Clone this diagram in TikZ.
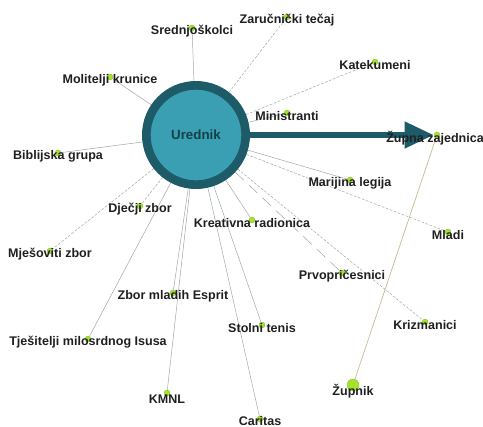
\documentclass[tikz,border=0pt]{standalone}
\usepackage{fontspec}
\setmainfont{Liberation Sans}
\usepackage{tikz}
\usetikzlibrary{arrows.meta,backgrounds}

\definecolor{ringteal}{HTML}{1E5B68}
\definecolor{fillteal}{HTML}{3A9FB3}
\definecolor{linkgray}{HTML}{98A3A6}
\definecolor{dotgreen}{HTML}{A4E22C}
\definecolor{dotedge}{HTML}{78B820}
\definecolor{tanline}{HTML}{C8B78C}

\begin{document}
\begin{tikzpicture}[x=0.75pt, y=-0.75pt,
    dot/.style={shape=circle, fill=dotgreen, draw=dotedge, line width=0.2pt, inner sep=0pt, minimum size=4.5pt},
    lbl/.style={font=\fontsize{9.4}{11}\selectfont\bfseries, text=black!88, inner sep=0pt, yshift=-2.4pt},
    link/.style={draw=linkgray, line width=0.35pt},
    fine/.style={dash pattern=on 2pt off 1.2pt},
    longdash/.style={dash pattern=on 9pt off 5pt},
    bigarrow/.style={draw=ringteal, fill=ringteal, line width=5pt, -{Triangle[length=22pt, width=19pt, fill=ringteal]}}]
    \useasboundingbox (0,0) rectangle (483,426);
    \node[shape=circle, draw=ringteal, line width=6.5pt, fill=fillteal, minimum size=74.5pt,
          font=\fontsize{10}{12}\selectfont\bfseries, text=ringteal!70!black] at (196,135) (Ured) {Urednik};
    \node[dot, label={[lbl]center:Srednjoškolci}] at (192,28) (Sred) {};
    \node[dot, label={[lbl]center:Zaručnički tečaj}] at (287,17) (Zar) {};
    \node[dot, label={[lbl]center:Katekumeni}] at (375,62) (Kat) {};
    \node[dot, label={[lbl]center:Ministranti}] at (287,113) (Min) {};
    \node[dot, label={[lbl, xshift=-1.5pt]center:Župna zajednica}] at (437,135) (Zupa) {};
    \node[dot, label={[lbl]center:Marijina legija}] at (350,180) (Mar) {};
    \node[dot, label={[lbl]center:Mladi}] at (448,232) (Mladi) {};
    \node[dot, label={[lbl]center:Prvopričesnici}] at (342,273) (Prvo) {};
    \node[dot, label={[lbl]center:Krizmanici}] at (425,322) (Kriz) {};
    \node[dot, minimum size=9pt, label={[lbl, yshift=-2.5pt]center:Župnik}] at (353,385) (Zupnik) {};
    \node[dot, label={[lbl, yshift=1pt]center:Caritas}] at (260,419) (Car) {};
    \node[dot, label={[lbl]center:Stolni tenis}] at (262,325) (Stol) {};
    \node[dot, label={[lbl]center:Kreativna radionica}] at (252,220) (Krea) {};
    \node[dot, label={[lbl, yshift=-2.5pt]center:KMNL}] at (167,393) (KMNL) {};
    \node[dot, label={[lbl]center:Zbor mladih Esprit}] at (173,293) (Esp) {};
    \node[dot, label={[lbl]center:Tješitelji milosrdnog Isusa}] at (88,339) (Tjes) {};
    \node[dot, label={[lbl]center:Mješoviti zbor}] at (50,251) (Mjes) {};
    \node[dot, label={[lbl]center:Dječji zbor}] at (140,206) (Djec) {};
    \node[dot, label={[lbl]center:Biblijska grupa}] at (58,153) (Bib) {};
    \node[dot, label={[lbl]center:Molitelji krunice}] at (110,77) (Mol) {};
    \begin{scope}[on background layer]
    \path [link] (Ured) edge (Sred);
    \path [link] (Ured) edge[fine] (Zar);
    \path [link] (Ured) edge[fine] (Kat);
    \path [link] (Ured) edge (Min);
    \path [link] (Ured) edge (Mar);
    \path [link] (Ured) edge[fine] (Mladi);
    \path [link] (Ured) edge[longdash] (Prvo);
    \path [link] (Ured) edge[fine] (Kriz);
    \path [link] (Ured) edge (Car);
    \path [link] (Ured) edge (Stol);
    \path [link] (Ured) edge (Krea);
    \path [link] (Ured) edge (KMNL);
    \path [link] (Ured) edge (Esp);
    \path [link] (Ured) edge (Tjes);
    \path [link] (Ured) edge[fine] (Mjes);
    \path [link] (Ured) edge[fine] (Djec);
    \path [link] (Ured) edge (Bib);
    \path [link] (Ured) edge (Mol);
    \path [draw=tanline, line width=0.5pt] (Zupnik) edge (Zupa);
    \draw [bigarrow] (Ured) -- (Zupa);
    \end{scope}
\end{tikzpicture}
\end{document}
